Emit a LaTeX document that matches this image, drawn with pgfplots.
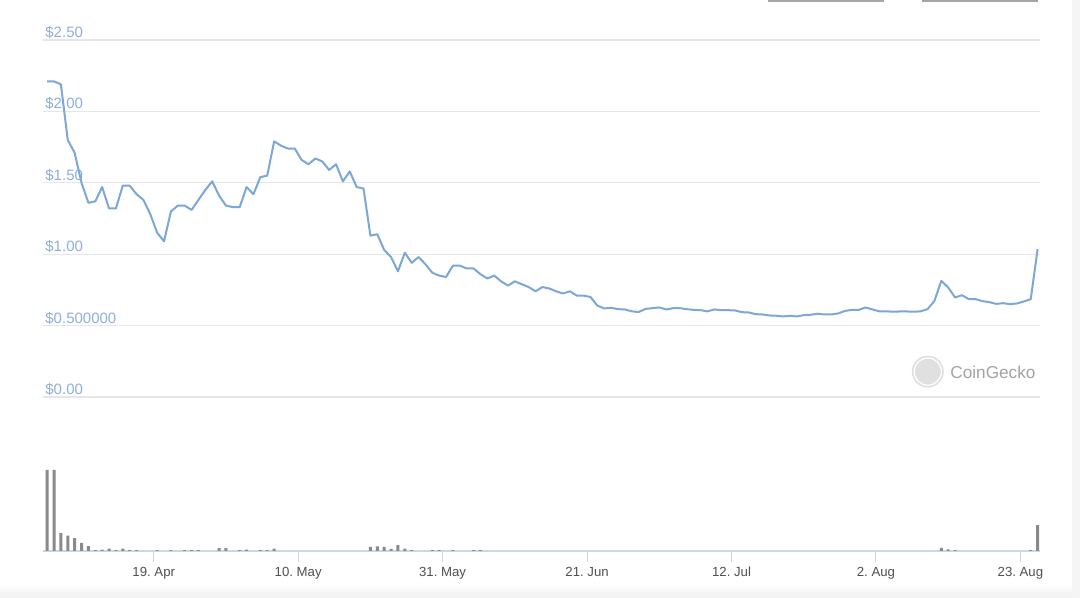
\documentclass[border=0pt]{standalone}
\usepackage{fontspec}
\setmainfont{Liberation Sans}
\usepackage{pgfplots}
\usepackage{pgfplotstable}
\pgfplotsset{compat=1.18}

\definecolor{priceline}{RGB}{124,167,214}
\definecolor{ylab}{RGB}{143,174,222}
\definecolor{gridc}{RGB}{230,230,230}
\definecolor{barc}{RGB}{138,138,138}
\definecolor{axisc}{RGB}{204,214,235}
\definecolor{xlab}{RGB}{80,80,80}
\definecolor{wmark}{RGB}{163,163,163}

% day 0 = 19 Apr, points sit at noon
\pgfplotstableread{
day price
-16 2.21
-15 2.21
-14 2.19
-13 1.80
-12 1.71
-11 1.50
-10 1.36
-9 1.37
-8 1.47
-7 1.32
-6 1.32
-5 1.48
-4 1.48
-3 1.42
-2 1.38
-1 1.28
0 1.15
1 1.09
2 1.30
3 1.34
4 1.34
5 1.31
6 1.38
7 1.45
8 1.51
9 1.41
10 1.34
11 1.33
12 1.33
13 1.47
14 1.42
15 1.54
16 1.55
17 1.79
18 1.76
19 1.74
20 1.74
21 1.66
22 1.63
23 1.67
24 1.65
25 1.59
26 1.63
27 1.51
28 1.58
29 1.47
30 1.46
31 1.13
32 1.14
33 1.03
34 0.98
35 0.88
36 1.01
37 0.94
38 0.98
39 0.93
40 0.87
41 0.85
42 0.84
43 0.92
44 0.92
45 0.90
46 0.90
47 0.86
48 0.83
49 0.85
50 0.81
51 0.78
52 0.81
53 0.79
54 0.77
55 0.74
56 0.77
57 0.76
58 0.74
59 0.725
60 0.74
61 0.71
62 0.71
63 0.70
64 0.64
65 0.62
66 0.625
67 0.615
68 0.613
69 0.60
70 0.595
71 0.617
72 0.622
73 0.627
74 0.613
75 0.622
76 0.622
77 0.615
78 0.61
79 0.608
80 0.60
81 0.613
82 0.608
83 0.608
84 0.606
85 0.594
86 0.592
87 0.58
88 0.578
89 0.571
90 0.569
91 0.564
92 0.569
93 0.564
94 0.573
95 0.576
96 0.583
97 0.578
98 0.578
99 0.585
100 0.603
101 0.61
102 0.61
103 0.627
104 0.613
105 0.60
106 0.60
107 0.597
108 0.599
109 0.599
110 0.597
111 0.60
112 0.615
113 0.673
114 0.813
115 0.767
116 0.697
117 0.713
118 0.685
119 0.685
120 0.671
121 0.664
122 0.652
123 0.657
124 0.65
125 0.655
126 0.669
127 0.685
128 1.035
}\pricetable

% volume, relative (tallest bar = 100)
\pgfplotstableread{
day vol
-16 100
-15 100
-14 22
-13 19
-12 16
-11 10
-10 6
-9 1
-8 1.6
-7 3
-6 1.2
-5 3
-4 1.2
-3 1
0 1
2 1.2
4 1
5 1
6 1
9 3.7
10 3.7
12 1
13 1.6
15 1
16 1
17 3
31 5
32 5.8
33 5
34 2.5
35 7.4
36 3
37 1
40 1
41 1
43 1
46 1
47 1
114 4
115 2
116 1
127 1
128 32
}\voltable

\begin{document}
\frenchspacing
\begin{tikzpicture}
% page: 1080 x 598 px at 0.5pt per px
\fill[white] (0,0) rectangle (540pt,299pt);
\shade[top color=white, bottom color=black!6] (0,0) rectangle (540pt,7pt);
\fill[black!4] (536pt,0) rectangle (540pt,299pt);
\draw[black!35, line width=0.8pt] (384pt,298.6pt) -- (442pt,298.6pt);
\draw[black!35, line width=0.8pt] (461pt,298.6pt) -- (519pt,298.6pt);

\begin{axis}[
    at={(21.5pt,100.5pt)}, anchor=south west,
    scale only axis, width=498.5pt, height=178.5pt,
    xmin=-16.6, xmax=128.35, ymin=0, ymax=2.5,
    axis line style={draw=none},
    xtick=\empty,
    ytick={0,0.5,1,1.5,2,2.5},
    yticklabels={\$0.00,\$0.500000,\$1.00,\$1.50,\$2.00,\$2.50},
    major tick length=0pt,
    ymajorgrids, grid style={gridc, line width=0.6pt},
    yticklabel style={anchor=base west, inner sep=0pt, xshift=1pt, yshift=1.2pt,
        text=ylab, font=\fontsize{7.5}{8}\selectfont},
    clip=false,
]
\addplot[priceline, line width=1pt, line join=round, mark=none] table[x=day, y=price] {\pricetable};
\end{axis}

\begin{axis}[
    at={(21.5pt,23.5pt)}, anchor=south west,
    scale only axis, width=498.5pt, height=40.5pt,
    xmin=-16.6, xmax=128.35, ymin=0, ymax=100,
    ybar, bar width=1.5pt,
    axis x line*=bottom, axis y line=none,
    x axis line style={axisc, line width=0.6pt, -},
    xtick={-0.5,20.5,41.5,62.5,83.5,104.5,125.5},
    xticklabels={19. Apr,10. May,31. May,21. Jun,12. Jul,2. Aug,23. Aug},
    ytick=\empty,
    tick align=outside, major tick length=5.5pt,
    xtick style={axisc, line width=0.5pt},
    xticklabel style={text=xlab, font=\fontsize{6.6}{7}\selectfont,
        text height=5pt, text depth=1.5pt, yshift=1.2pt},
    clip=false,
]
\addplot[fill=barc, draw=none] table[x=day, y=vol] {\voltable};
\end{axis}

% watermark
\fill[black!12] (463.9pt,113.2pt) circle (8pt);
\draw[white, line width=0.6pt] (463.9pt,113.2pt) circle (6.8pt);
\node[anchor=west, inner sep=0pt, text=wmark, font=\fontsize{8.6}{9}\selectfont] at (475pt,113pt) {CoinGecko};
\end{tikzpicture}
\end{document}
